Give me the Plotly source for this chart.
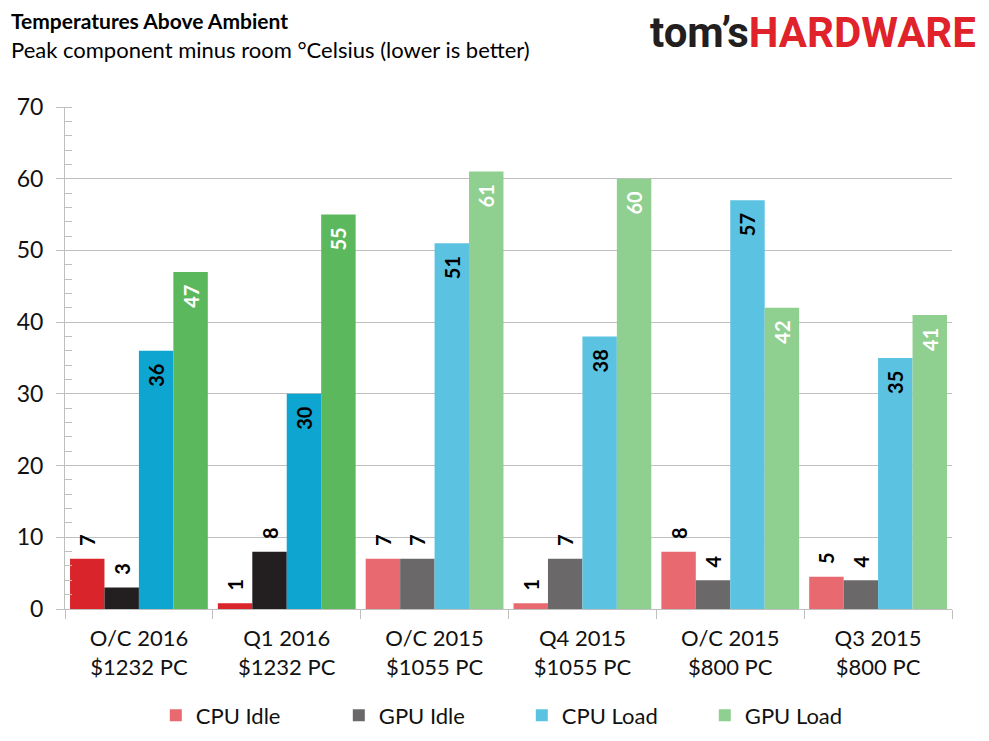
import plotly.graph_objects as go

# data
categories = ["O/C 2016<br>$1232 PC", "Q1 2016<br>$1232 PC",
              "O/C 2015<br>$1055 PC", "Q4 2015<br>$1055 PC",
              "O/C 2015<br>$800 PC", "Q3 2015<br>$800 PC"]
series_names = ["CPU Idle", "GPU Idle", "CPU Load", "GPU Load"]
cpu_idle = [7, 0.8, 7, 0.8, 8, 4.5]
gpu_idle = [3, 8, 7, 7, 4, 4]
cpu_load = [36, 30, 51, 38, 57, 35]
gpu_load = [47, 55, 61, 60, 42, 41]
cpu_idle_labels = ["7", "1", "7", "1", "8", "5"]
gpu_idle_labels = ["3", "8", "7", "7", "4", "4"]
cpu_load_labels = ["36", "30", "51", "38", "57", "35"]
gpu_load_labels = ["47", "55", "61", "60", "42", "41"]
n_new = 2  # first two systems are drawn in the darker shade

FONT = "Lato"
dark_colors = ["#d9242b", "#231f20", "#0ea5d1", "#5bb85d"]
light_colors = ["#e86a70", "#6b6869", "#5bc3e1", "#8fcf8f"]
label_pos = ["outside", "outside", "inside", "inside"]
label_col = ["black", "black", "black", "white"]

values = [cpu_idle, gpu_idle, cpu_load, gpu_load]
labels = [cpu_idle_labels, gpu_idle_labels, cpu_load_labels, gpu_load_labels]

fig = go.Figure()
PAD = "\u00a0\u00a0"  # keeps the rotated labels off the bar tops


def add_bars(sl, colors, showlegend):
    for i, name in enumerate(series_names):
        if label_pos[i] == "outside":
            txt = [PAD + t for t in labels[i][sl]]
        else:
            txt = [t + PAD for t in labels[i][sl]]
        fig.add_trace(go.Bar(
            x=categories[sl], y=values[i][sl], text=txt,
            name=name, offsetgroup=str(i), legendgroup=name,
            showlegend=showlegend,
            marker=dict(color=colors[i], line=dict(width=0)),
            textposition=label_pos[i], textangle=-90,
            insidetextanchor="end", constraintext="none", cliponaxis=False,
            textfont=dict(family=FONT, size=20, color=label_col[i], weight="bold"),
            hoverinfo="x+y+name",
        ))


add_bars(slice(n_new, None), light_colors, True)
add_bars(slice(0, n_new), dark_colors, False)

grid = "#bfbfbf"
fig.update_layout(
    width=989, height=741,
    margin=dict(l=57, r=45, t=99, b=130),
    paper_bgcolor="white", plot_bgcolor="white",
    barmode="group", bargap=0.068, bargroupgap=0,
    font=dict(family=FONT, size=20, color="#111"),
    showlegend=True,
    legend=dict(orientation="h", x=0.515, xanchor="center", y=-0.212, yanchor="middle",
                entrywidth=138, font=dict(size=22), traceorder="normal"),
    xaxis=dict(categoryorder="array", categoryarray=categories, automargin=False,
               showgrid=False, showline=True, linecolor=grid, linewidth=1,
               ticks="outside", tickson="boundaries", ticklen=9, tickcolor=grid,
               ticklabelstandoff=10, tickfont=dict(size=22)),
    yaxis=dict(range=[0, 70], dtick=10, showgrid=True, gridcolor=grid, automargin=False,
               showline=True, linecolor=grid, linewidth=1, zeroline=False,
               ticks="outside", ticklen=8, tickcolor=grid, ticklabelstandoff=8,
               minor=dict(dtick=2, ticks="inside", ticklen=7, tickcolor=grid, showgrid=False),
               tickfont=dict(size=23)),
    annotations=[
        dict(text="<b>Temperatures Above Ambient</b>", xref="paper", yref="paper",
             x=-0.063, y=1.1726, xanchor="left", yanchor="middle", showarrow=False,
             font=dict(size=21, color="#000")),
        dict(text="Peak component minus room °Celsius (lower is better)",
             xref="paper", yref="paper", x=-0.063, y=1.115,
             xanchor="left", yanchor="middle", showarrow=False,
             font=dict(size=22, color="#000")),
        dict(text="<span style='color:#231f20'>tom’s</span>"
                  "<span style='color:#e0222b'>HARDWARE</span>",
             xref="paper", yref="paper", x=1.029, y=1.148,
             xanchor="right", yanchor="middle", showarrow=False,
             font=dict(family="Roboto", size=42, weight="bold")),
    ],
)

fig.write_html("out.html")
